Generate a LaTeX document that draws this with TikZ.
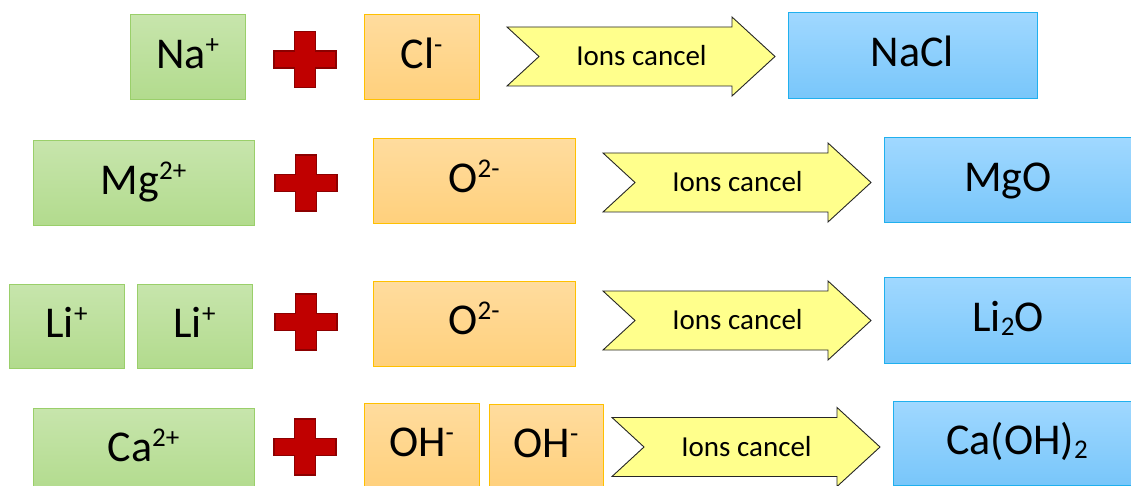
\documentclass[tikz,border=0pt]{standalone}
\usepackage{fontspec}
\setmainfont{Carlito}
\definecolor{grnT}{HTML}{C7E5AC}
\definecolor{grnB}{HTML}{B2DB8D}
\definecolor{grnD}{HTML}{9ACF6A}
\definecolor{orT}{HTML}{FFDC9E}
\definecolor{orB}{HTML}{FFD07C}
\definecolor{orD}{HTML}{FFC000}
\definecolor{blT}{HTML}{A0D8FF}
\definecolor{blB}{HTML}{78C6FA}
\definecolor{blD}{HTML}{20B0EE}
\definecolor{arrF}{HTML}{FFFF8C}
\definecolor{crF}{HTML}{C00000}
\definecolor{crD}{HTML}{8C0000}
\newcommand\ionup[1]{\raisebox{15pt}{\fontsize{27}{27}\selectfont #1}}
\newcommand\iondn[1]{\raisebox{-4pt}{\fontsize{27}{27}\selectfont #1}}
\tikzset{
  ionbox/.style={rectangle, inner sep=0pt, line width=1pt,
    font=\fontsize{44}{44}\selectfont, text height=30pt, text depth=8pt},
  greenbox/.style={ionbox, draw=grnD, top color=grnT, bottom color=grnB},
  orangebox/.style={ionbox, draw=orD, top color=orT, bottom color=orB},
  bluebox/.style={ionbox, draw=blD, top color=blT, bottom color=blB},
  arrowshape/.style={draw=black!85, line width=0.9pt, fill=arrF, line join=miter},
  arrowtext/.style={inner sep=0pt, font=\fontsize{29}{29}\selectfont,
    text height=22pt, text depth=4pt},
  crossshape/.style={draw=crD, line width=1.8pt, fill=crF, line join=miter}
}
\newcommand\ionarrow[3]{%
  \draw[arrowshape] (#1,#2-29.5) -- (#1+225,#2-29.5) -- (#1+225,#2-39.5)
    -- (#1+268,#2) -- (#1+225,#2+39.5) -- (#1+225,#2+29.5) -- (#1,#2+29.5)
    -- (#1+32,#2) -- cycle;
  \node[arrowtext] (#3) at (#1+134.5,#2) {Ions cancel};}
\newcommand\redcross[2]{%
  \draw[crossshape] (#1-10.5,#2-28) -- (#1+10.5,#2-28) -- (#1+10.5,#2-8.5)
    -- (#1+31,#2-8.5) -- (#1+31,#2+8.5) -- (#1+10.5,#2+8.5) -- (#1+10.5,#2+28)
    -- (#1-10.5,#2+28) -- (#1-10.5,#2+8.5) -- (#1-31,#2+8.5) -- (#1-31,#2-8.5)
    -- (#1-10.5,#2-8.5) -- cycle;}
\begin{document}
\begin{tikzpicture}[x=1pt,y=-1pt]
\useasboundingbox (0,0) rectangle (1131,486);
\clip (0,0) rectangle (1131,486);
% row 1
\node[greenbox, minimum width=115pt, minimum height=85pt] (na) at (187.5,57.5) {Na\ionup{+}};
\redcross{305}{59.5}
\node[orangebox, minimum width=115pt, minimum height=85pt] (cl) at (421.5,57.5) {Cl\ionup{-}};
\ionarrow{507}{56.5}{a1}
\node[bluebox, minimum width=249pt, minimum height=86pt] (nacl) at (912.5,56) {NaCl};
% row 2
\node[greenbox, minimum width=221pt, minimum height=85pt] (mg) at (143.5,183.5) {Mg\ionup{2+}};
\redcross{306}{183}
\node[orangebox, minimum width=202pt, minimum height=85pt] (o1) at (474,181.5) {O\ionup{2-}};
\ionarrow{603}{182.5}{a2}
\node[bluebox, minimum width=248pt, minimum height=85pt] (mgo) at (1008,180.5) {MgO};
% row 3
\node[greenbox, minimum width=115pt, minimum height=84pt] (li1) at (66.5,326) {Li\ionup{+}};
\node[greenbox, minimum width=115pt, minimum height=84pt] (li2) at (194.5,326) {Li\ionup{+}};
\redcross{306}{322}
\node[orangebox, minimum width=202pt, minimum height=85pt] (o2) at (474,323.5) {O\ionup{2-}};
\ionarrow{603}{320.5}{a3}
\node[bluebox, minimum width=248pt, minimum height=86pt] (li2o) at (1008,320) {Li\iondn{2}O};
% row 4
\node[greenbox, minimum width=221pt, minimum height=85pt] (ca) at (143.5,450.5) {Ca\ionup{2+}};
\redcross{305}{447}
\node[orangebox, minimum width=115pt, minimum height=85pt] (oh1) at (421.5,445.5) {OH\ionup{-}};
\node[orangebox, minimum width=114pt, minimum height=85pt] (oh2) at (546,446.5) {OH\ionup{-}};
\ionarrow{612}{447}{a4}
\node[bluebox, minimum width=248pt, minimum height=84pt] (caoh) at (1017,443) {Ca(OH)\iondn{2}};
\end{tikzpicture}
\end{document}
